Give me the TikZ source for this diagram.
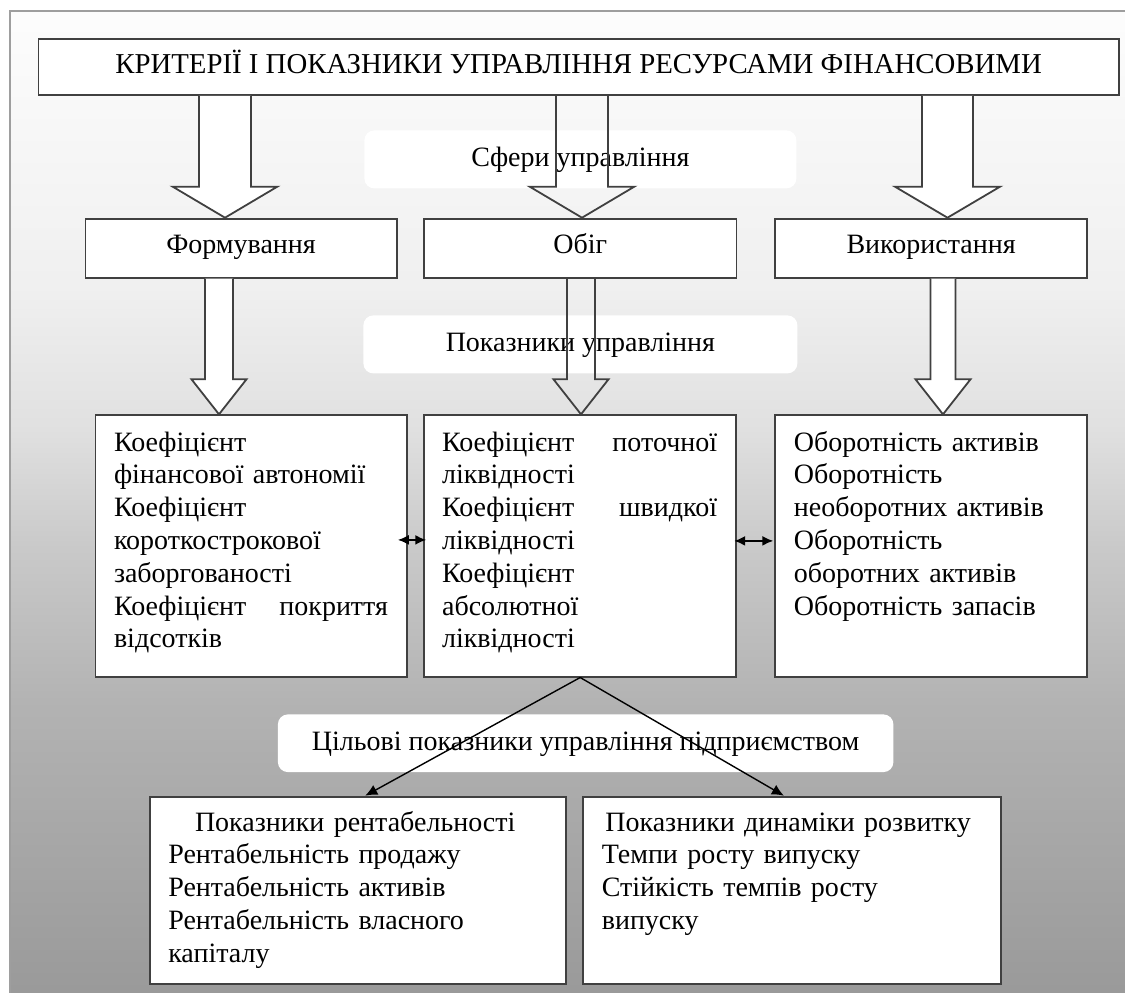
\documentclass[tikz,border=0pt]{standalone}
\usepackage{fontspec}
\setmainfont{Liberation Serif}
\usetikzlibrary{calc,arrows.meta}
\definecolor{gA}{gray}{0.60}
\definecolor{gB}{gray}{0.70}
\definecolor{gC}{gray}{0.79}
\definecolor{gD}{gray}{0.88}
\definecolor{gE}{gray}{0.94}
\definecolor{gF}{gray}{0.99}
\definecolor{frameg}{gray}{0.62}
\definecolor{boxline}{gray}{0.25}
\pgfdeclareverticalshading{bgsh}{100bp}{color(0bp)=(gA); color(25bp)=(gA); color(40bp)=(gB); color(48bp)=(gC); color(54bp)=(gD); color(61bp)=(gE); color(75bp)=(gF); color(100bp)=(gF)}
\newcommand\blockarrow[7]{%
  \coordinate (bx) at (#1,0);
  \draw[#7] ($(bx |- #2.south)+(-#4,0)$) -- ($(bx |- #3.north)+(-#4,-#6)$) -- ($(bx |- #3.north)+(-#5,-#6)$) -- (bx |- #3.north) -- ($(bx |- #3.north)+(#5,-#6)$) -- ($(bx |- #3.north)+(#4,-#6)$) -- ($(bx |- #2.south)+(#4,0)$);
}
\begin{document}
\begin{tikzpicture}[x=0.5pt,y=-0.5pt,
  every node/.style={font=\fontsize{14}{16.4}\selectfont},
  box/.style={draw=boxline,line width=0.9pt,fill=white,inner sep=0pt,anchor=north west},
  cbox/.style={box,text height=9pt,text depth=4pt},
  lbl/.style={fill=white,rounded corners=5pt,inner sep=0pt,anchor=north west,text height=10pt,text depth=2.5pt},
  txt/.style={inner sep=0pt,anchor=base west,align=left},
  barf/.style={draw=boxline,line width=0.9pt,fill=white,line join=miter},
  baro/.style={draw=boxline,line width=0.9pt,line join=miter},
  con/.style={draw=black,line width=0.7pt,-{Latex[length=6pt,width=5.5pt]}},
  dbl/.style={draw=black,line width=1pt,{Latex[length=5.5pt,width=5pt]}-{Latex[length=5.5pt,width=5pt]}}
]
\useasboundingbox (0,0) rectangle (1125,992);
\clip (0,0) rectangle (1125,992);
\fill[white] (0,0) rectangle (1125,992);
\shade[shading=bgsh] (9.6,11) rectangle (1135,1002);
\draw[frameg,line width=1pt] (9.6,11) rectangle (1135,1002);

% boxes
\node[box,minimum width=540.25pt,minimum height=28pt,text height=10.3pt,text depth=3.6pt,font=\fontsize{14.4}{16.4}\selectfont] (top) at (37.5,38) {КРИТЕРІЇ І ПОКАЗНИКИ УПРАВЛІННЯ РЕСУРСАМИ ФІНАНСОВИМИ};
\node[cbox,minimum width=155.55pt,minimum height=29.5pt] (form) at (84.6,217.7) {Формування};
\node[cbox,minimum width=156.25pt,minimum height=29.5pt] (obig) at (423,217.7) {Обіг};
\node[cbox,minimum width=155.8pt,minimum height=29.5pt] (vyk) at (774.4,217.7) {Використання};

\node[box,minimum width=155.7pt,minimum height=130.7pt] (fb) at (94.6,414.3) {};
\node[box,minimum width=156pt,minimum height=130.7pt] (ob) at (423.3,414.3) {};
\node[box,minimum width=155.8pt,minimum height=130.7pt] (vb) at (774.4,414.3) {};

\node[box,minimum width=208.05pt,minimum height=93.65pt] (rb) at (149.3,795.7) {};
\node[box,minimum width=209pt,minimum height=93.65pt] (db) at (582,795.7) {};

% texts
\node[txt,text width=137pt] (ft) at (113.6,451) {Коефіцієнт\\
фінансової автономії\\
Коефіцієнт\\
короткострокової\\
заборгованості\\
Коефіцієнт\hfill покриття\\
відсотків};
\node[txt,text width=137.5pt] (ot) at (441.7,451) {Коефіцієнт\hfill поточної\\
ліквідності\\
Коефіцієнт\hfill швидкої\\
ліквідності\\
Коефіцієнт\\
абсолютної\\
ліквідності};
\node[txt,text width=145pt] (vt) at (793.5,451) {Оборотність активів\\
Оборотність\\
необоротних активів\\
Оборотність\\
оборотних активів\\
Оборотність запасів};
\node[txt,text width=190pt] (rt) at (167.9,831) {\hspace*{13.35pt}Показники рентабельності\\
Рентабельність продажу\\
Рентабельність активів\\
Рентабельність власного\\
капіталу};
\node[txt,text width=200pt] (dt) at (601.4,831) {\hspace*{1.8pt}Показники динаміки розвитку\\
Темпи росту випуску\\
Стійкість темпів росту\\
випуску};

% labels
\node[lbl,minimum width=216pt,minimum height=29pt] (l1) at (364,130) {Сфери управління};
\node[lbl,minimum width=217pt,minimum height=29pt] (l2) at (363,315) {Показники управління};
\node[lbl,minimum width=307.75pt,minimum height=28.85pt] (l3) at (277.5,714) {Цільові показники управління підприємством};

% block arrows
\blockarrow{225}{top}{form}{26}{52.25}{31}{barf}
\blockarrow{582}{top}{obig}{26}{52.25}{31}{baro}
\blockarrow{947.5}{top}{vyk}{25.5}{52.5}{31}{barf}
\blockarrow{219}{form}{fb}{14}{27.5}{35}{barf}
\blockarrow{581}{obig}{ob}{14}{27.5}{35}{baro}
\blockarrow{943}{vyk}{vb}{12.5}{27.5}{35}{barf}

% double arrows
\draw[dbl] ($(fb.east)+(-10,-6)$) -- ($(ob.west)+(3,-6)$);
\draw[dbl] ($(ob.east)+(-3,-5)$) -- ($(vb.west)+(-1,-5)$);

% diagonal connectors
\draw[con] (ob.south) -- ($(rb.north)+(7,0)$);
\draw[con] (ob.south) -- ($(db.north)+(-8,0)$);
\end{tikzpicture}
\end{document}
